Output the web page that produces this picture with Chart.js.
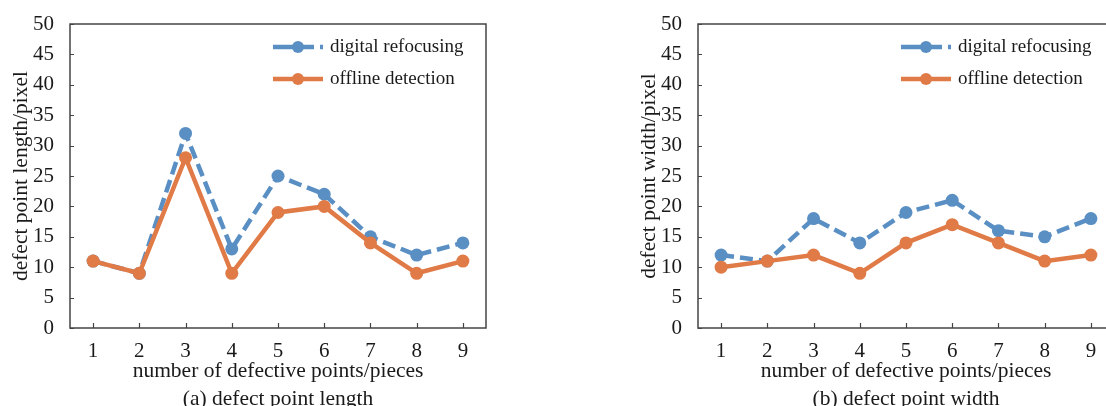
<!DOCTYPE html>
<html lang="en">
<head>
    <meta charset="UTF-8">
    <title>Defect point length and width</title>
    <script src="https://cdn.jsdelivr.net/npm/chart.js"></script>
    <style>
        body {
            margin: 0;
            background: white;
            width: 1106px;
            height: 406px;
            overflow: hidden;
            position: relative;
        }
        .panel {
            position: absolute;
            top: 0;
        }
    </style>
</head>
<body>
    <div class="panel" style="left: 0px;"><canvas id="lengthChart" width="500" height="413"></canvas></div>
    <div class="panel" style="left: 628px;"><canvas id="widthChart" width="500" height="413"></canvas></div>

    <script>
    // values
    const categories = ['1', '2', '3', '4', '5', '6', '7', '8', '9'];
    const lengthDigital = [11, 9, 32, 13, 25, 22, 15, 12, 14];
    const lengthOffline = [11, 9, 28, 9, 19, 20, 14, 9, 11];
    const widthDigital = [12, 11, 18, 14, 19, 21, 16, 15, 18];
    const widthOffline = [10, 11, 12, 9, 14, 17, 14, 11, 12];
    const seriesNames = ['digital refocusing', 'offline detection'];

    const BLUE = '#5a8fc4';
    const ORANGE = '#e07a46';
    const TEXT = '#1a1a1a';
    const FONT = '"Liberation Serif", "Times New Roman", serif';

    // frame around the plot + inward tick marks + legend
    const framePlugin = {
        id: 'frame',
        afterDraw(chart) {
            const ctx = chart.ctx;
            const a = chart.chartArea;
            const x = chart.scales.x;
            const y = chart.scales.y;
            ctx.save();
            ctx.strokeStyle = '#444';
            ctx.lineWidth = 1.5;
            ctx.strokeRect(a.left, a.top, a.right - a.left, a.bottom - a.top);

            ctx.lineWidth = 1.2;
            ctx.beginPath();
            x.ticks.forEach((t, i) => {
                const px = Math.round(x.getPixelForTick(i)) + 0.5;
                ctx.moveTo(px, a.bottom);
                ctx.lineTo(px, a.bottom - 5);
            });
            y.ticks.forEach((t, i) => {
                const py = Math.round(y.getPixelForTick(i)) + 0.5;
                ctx.moveTo(a.left, py);
                ctx.lineTo(a.left + 4, py);
            });
            ctx.stroke();

            // legend
            chart.data.datasets.forEach((ds, i) => {
                const ly = 47 + i * 32;
                ctx.strokeStyle = ds.borderColor;
                ctx.lineWidth = 4.5;
                ctx.setLineDash(ds.borderDash && ds.borderDash.length ? [41, 6] : []);
                ctx.beginPath();
                ctx.moveTo(273, ly);
                ctx.lineTo(323, ly);
                ctx.stroke();
                ctx.setLineDash([]);
                ctx.fillStyle = ds.borderColor;
                ctx.beginPath();
                ctx.arc(298, ly, 6, 0, Math.PI * 2);
                ctx.fill();
                ctx.fillStyle = TEXT;
                ctx.font = '19px ' + FONT;
                ctx.textAlign = 'left';
                ctx.textBaseline = 'middle';
                ctx.fillText(ds.label, 330, ly);
            });
            ctx.restore();
        }
    };

    function makeChart(id, digital, offline, yTitle, caption) {
        const ctx = document.getElementById(id).getContext('2d');
        return new Chart(ctx, {
            type: 'line',
            data: {
                labels: categories,
                datasets: [{
                    label: seriesNames[0],
                    data: digital,
                    borderColor: BLUE,
                    backgroundColor: BLUE,
                    borderWidth: 4.5,
                    borderDash: [13, 6],
                    pointRadius: 6.5,
                    pointBorderWidth: 0,
                    pointBackgroundColor: BLUE,
                    tension: 0,
                    order: 1
                }, {
                    label: seriesNames[1],
                    data: offline,
                    borderColor: ORANGE,
                    backgroundColor: ORANGE,
                    borderWidth: 4.5,
                    pointRadius: 6.5,
                    pointBorderWidth: 0,
                    pointBackgroundColor: ORANGE,
                    tension: 0,
                    order: 0
                }]
            },
            options: {
                responsive: false,
                animation: false,
                layout: {
                    padding: { top: 24, right: 14, bottom: 0, left: 0 }
                },
                plugins: {
                    legend: { display: false },
                    tooltip: { enabled: false }
                },
                scales: {
                    x: {
                        offset: true,
                        grid: { display: false },
                        border: { display: false },
                        afterFit: scale => { scale.height = 85; },
                        ticks: {
                            color: TEXT,
                            padding: 3,
                            font: { family: FONT, size: 21 }
                        },
                        title: {
                            display: true,
                            text: ['number of defective points/pieces', caption],
                            color: TEXT,
                            padding: { top: 0, bottom: 0 },
                            font: { family: FONT, size: 21.5, lineHeight: 1.3 }
                        }
                    },
                    y: {
                        min: 0,
                        max: 50,
                        grid: { display: false },
                        border: { display: false },
                        afterFit: scale => { scale.width = 70; },
                        ticks: {
                            stepSize: 5,
                            color: TEXT,
                            padding: 8,
                            font: { family: FONT, size: 21 }
                        },
                        title: {
                            display: true,
                            text: yTitle,
                            color: TEXT,
                            padding: { top: 8, bottom: 0 },
                            font: { family: FONT, size: 21.5, lineHeight: 1.2 }
                        }
                    }
                }
            },
            plugins: [framePlugin]
        });
    }

    makeChart('lengthChart', lengthDigital, lengthOffline, 'defect point length/pixel', '(a) defect point length');
    makeChart('widthChart', widthDigital, widthOffline, 'defect point width/pixel', '(b) defect point width');
    </script>
</body>
</html>
